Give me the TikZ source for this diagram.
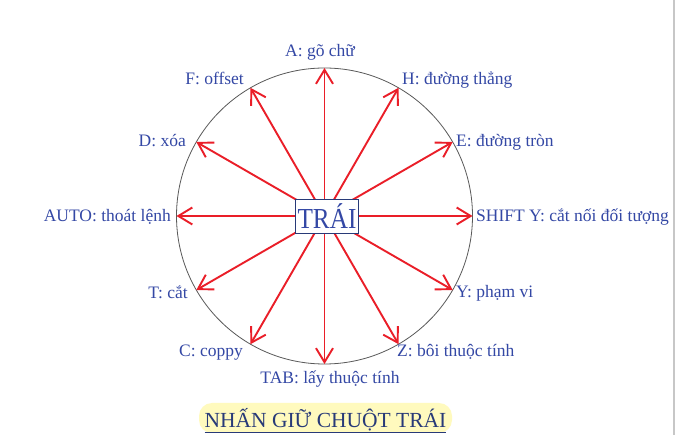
\documentclass[tikz,border=0pt]{standalone}
\usepackage{fontspec}
\setmainfont{Liberation Serif}
\usetikzlibrary{arrows.meta,calc}
\definecolor{lblue}{RGB}{52,72,165}
\definecolor{dblue}{RGB}{40,58,120}
\definecolor{ared}{RGB}{234,30,40}
\definecolor{hl}{RGB}{255,250,190}
\begin{document}
\begin{tikzpicture}[x=1pt,y=-1pt,
  lbl/.style={text=lblue,inner sep=0pt,font=\fontsize{17.5}{20}\selectfont},
  arr/.style={draw=ared,line width=1.9pt,-{Straight Barb[length=14pt,width=17pt,line width=1.9pt]}},
  ring/.style={draw=black!65,line width=0.8pt},
  hub/.style={draw=dblue,fill=white,line width=0.9pt,minimum width=63pt,minimum height=34pt,inner sep=0pt,text=lblue,font=\fontsize{29}{32}\selectfont}]
\useasboundingbox (0,0) rectangle (675,435);
\fill[white] (0,0) rectangle (675,435);
\draw[black!22,line width=1.5pt] (674,0) -- (674,435);
\coordinate (c) at (324.5,216);
\draw[ring] (c) circle[radius=148];
\foreach \n/\a in {p0/0,p30/30,p60/60,p90/90,p120/120,p150/150,p180/180,p210/210,p240/240,p270/270,p300/300,p330/330}{
  \coordinate (\n) at ($(c)+(-\a:148)$);
}
\foreach \n in {p0,p30,p60,p90,p120,p150,p180,p210,p240,p270,p300,p330}{
  \draw[arr] (c) -- (\n);
}
\node[hub] (box) at (327,216) {\scalebox{0.87}[1]{TRÁI}};
\node[lbl,anchor=base] (lA) at (320,57) {A: gõ chữ};
\node[lbl,anchor=base west] (lH) at (402,85) {H: đường thẳng};
\node[lbl,anchor=base east] (lF) at (244,85) {F: offset};
\node[lbl,anchor=base east] (lD) at (186,147) {D: xóa};
\node[lbl,anchor=base west] (lE) at (456,147) {E: đường tròn};
\node[lbl,anchor=base east] (lAU) at (171,222) {AUTO: thoát lệnh};
\node[lbl,anchor=base west] (lS) at (476,222) {SHIFT Y: cắt nối đối tượng};
\node[lbl,anchor=base east] (lT) at (188,299) {T: cắt};
\node[lbl,anchor=base west] (lY) at (456,298) {Y: phạm vi};
\node[lbl,anchor=base east] (lC) at (243,357) {C: coppy};
\node[lbl,anchor=base west] (lZ) at (397,357) {Z: bôi thuộc tính};
\node[lbl,anchor=base] (lTAB) at (330,384) {TAB: lấy thuộc tính};
\fill[hl,rounded corners=13pt] (199,403) rectangle (452,433);
\node[inner sep=0pt,anchor=base,text=dblue,font=\fontsize{21.5}{24}\selectfont] (title) at (325.5,427.5) {\underline{NHẤN GIỮ CHUỘT TRÁI}};
\end{tikzpicture}
\end{document}
